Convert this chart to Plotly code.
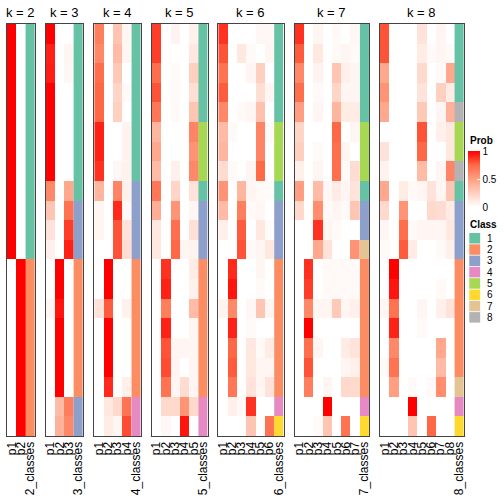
import plotly.graph_objects as go

W = H = 504
FONT = "Liberation Sans, Arial, sans-serif"

ks = [2, 3, 4, 5, 6, 7, 8]

prob_k2 = [[1, 0]] * 12 + [[0, 1]] * 9
class_k2 = [1] * 12 + [2] * 9

prob_k3 = [
    [1.00, 0, 0], [0.92, 0, 0.05], [0.93, 0, 0.04], [1, 0, 0], [1, 0, 0], [1, 0, 0],
    [1, 0, 0], [1, 0, 0], [0.60, 0, 0.45], [0.30, 0, 0.70], [0.15, 0, 0.85], [0.08, 0, 0.92],
    [0, 1, 0], [0, 1, 0], [0.05, 0.95, 0], [0, 1, 0], [0, 1, 0], [0, 1, 0], [0, 1, 0],
    [0, 0.35, 0.65], [0, 0.40, 0.60]]
class_k3 = [1] * 9 + [3] * 3 + [2] * 7 + [3] * 2

prob_k4 = [
    [0.65, 0, 0.30, 0.05], [0.60, 0, 0.35, 0.05], [0.72, 0, 0.28, 0], [0.75, 0, 0.22, 0.03],
    [0.75, 0, 0.25, 0], [0.92, 0, 0, 0.06], [0.92, 0, 0, 0.06], [0.88, 0, 0.04, 0.07],
    [0.38, 0, 0.62, 0.08], [0.05, 0, 0.90, 0.04], [0.05, 0, 0.80, 0.15], [0, 0, 0.80, 0.18],
    [0, 1, 0, 0], [0, 1, 0, 0], [0.15, 0.78, 0, 0.07], [0, 1, 0, 0], [0, 1, 0, 0], [0, 1, 0, 0],
    [0, 0.90, 0, 0.08], [0, 0.12, 0.20, 0.70], [0, 0.10, 0.05, 0.82]]
class_k4 = [1] * 8 + [3] * 4 + [2] * 7 + [4] * 2

prob_k5 = [
    [0.85, 0, 0.06, 0, 0.08], [0.85, 0, 0, 0, 0.12], [0.72, 0, 0.03, 0, 0.25],
    [0.80, 0, 0.03, 0, 0.17], [0.68, 0, 0.03, 0, 0.30], [0.38, 0, 0, 0, 0.62],
    [0.45, 0, 0, 0, 0.55], [0.35, 0, 0.08, 0, 0.60], [0.68, 0, 0.22, 0, 0.15],
    [0.42, 0, 0.55, 0, 0.05], [0.12, 0, 0.72, 0, 0.16], [0.12, 0, 0.75, 0.05, 0.06],
    [0, 0.88, 0, 0, 0.10], [0, 0.92, 0, 0, 0.07], [0, 0.65, 0, 0, 0.35], [0, 0.92, 0, 0, 0.05],
    [0, 0.80, 0.05, 0.05, 0.05], [0, 0.82, 0.05, 0, 0.05], [0, 0.70, 0.05, 0.18, 0.05],
    [0, 0.20, 0.20, 0.55, 0.20], [0, 0.04, 0, 0.95, 0]]
class_k5 = [1] * 5 + [5] * 3 + [1] + [3] * 3 + [2] * 7 + [4] * 2

prob_k6 = [
    [0.88, 0, 0, 0, 0.04, 0.04], [0.80, 0, 0.12, 0.03, 0, 0.05], [0.70, 0, 0, 0.05, 0.25, 0],
    [0.78, 0, 0, 0, 0.17, 0.05], [0.60, 0, 0.03, 0.05, 0.32, 0], [0.35, 0.03, 0, 0, 0.62, 0.03],
    [0.38, 0, 0, 0, 0.62, 0], [0.18, 0.03, 0, 0.05, 0.74, 0], [0.55, 0, 0.38, 0.05, 0.03, 0.02],
    [0.35, 0, 0.65, 0.03, 0.04, 0], [0.08, 0, 0.78, 0, 0.12, 0.02], [0, 0, 0.80, 0.03, 0.05, 0.12],
    [0, 0.90, 0, 0, 0.05, 0], [0, 0.95, 0, 0, 0.03, 0], [0.06, 0.60, 0, 0.04, 0.30, 0.05],
    [0, 0.92, 0, 0.03, 0, 0], [0, 0.75, 0, 0.12, 0.03, 0.10], [0, 0.78, 0, 0.12, 0.05, 0.05],
    [0, 0.68, 0, 0.15, 0.05, 0.15], [0, 0.08, 0.03, 0.88, 0, 0], [0, 0, 0, 0.30, 0, 0.70]]
class_k6 = [1] * 5 + [5] * 3 + [1] + [3] * 3 + [2] * 7 + [4] + [6]

prob_k7 = [
    [0.88, 0, 0.05, 0, 0.03, 0, 0.04], [0.78, 0, 0.12, 0, 0.03, 0.05, 0.03],
    [0.60, 0, 0.06, 0, 0.30, 0.08, 0.05], [0.72, 0, 0.03, 0, 0.22, 0.05, 0.05],
    [0.50, 0, 0.05, 0, 0.38, 0.10, 0.10], [0.22, 0, 0, 0, 0.75, 0, 0.05],
    [0.25, 0, 0.03, 0, 0.72, 0.05, 0], [0.08, 0, 0.05, 0, 0.72, 0.03, 0.18],
    [0.50, 0, 0.35, 0.04, 0.10, 0.05, 0.15], [0.20, 0, 0.58, 0.03, 0.05, 0.03, 0.30],
    [0, 0, 0.88, 0.05, 0.03, 0, 0], [0, 0, 0.45, 0.15, 0, 0, 0.55],
    [0, 0.88, 0, 0.03, 0.03, 0.03, 0.03], [0, 0.85, 0, 0.03, 0.03, 0.03, 0.03],
    [0, 0.60, 0.05, 0.05, 0.28, 0.05, 0.08], [0, 1.00, 0, 0, 0, 0, 0],
    [0, 0.72, 0.05, 0, 0, 0.10, 0.15], [0, 0.80, 0, 0, 0, 0.05, 0.08],
    [0, 0.65, 0, 0.05, 0, 0.20, 0.20], [0, 0, 0, 1.00, 0, 0, 0], [0, 0, 0.03, 0.30, 0, 0.70, 0]]
class_k7 = [1] * 5 + [5] * 3 + [1] + [3] * 2 + [7] + [2] * 7 + [4] + [6]

prob_k8 = [
    [0.80, 0, 0, 0, 0.15, 0, 0.05, 0], [0.80, 0, 0, 0, 0.10, 0.03, 0.05, 0.03],
    [0.45, 0, 0, 0, 0.20, 0, 0.03, 0.45], [0.55, 0, 0, 0, 0.15, 0, 0.25, 0.10],
    [0.45, 0, 0, 0, 0.28, 0, 0.05, 0.40], [0, 0, 0, 0, 0.80, 0, 0.08, 0.12],
    [0.15, 0, 0, 0, 0.75, 0, 0, 0.12], [0.06, 0, 0, 0, 0.35, 0, 0.05, 0.62],
    [0.45, 0, 0.10, 0.03, 0.05, 0.15, 0.05, 0.30], [0.20, 0, 0.55, 0, 0, 0.20, 0.18, 0.10],
    [0.04, 0, 0.72, 0.03, 0.05, 0.05, 0.05, 0.12], [0.03, 0, 0.78, 0.10, 0, 0, 0.03, 0.08],
    [0, 1.00, 0, 0, 0, 0, 0, 0], [0, 0.95, 0, 0, 0, 0, 0.03, 0],
    [0.05, 0.70, 0, 0, 0.05, 0, 0.08, 0.15], [0, 0.92, 0, 0, 0.03, 0, 0, 0],
    [0, 0.60, 0, 0, 0, 0, 0.45, 0], [0.03, 0.70, 0, 0, 0, 0, 0.35, 0],
    [0, 0.50, 0, 0.03, 0, 0.03, 0.58, 0], [0, 0, 0, 1.00, 0, 0, 0, 0],
    [0, 0, 0, 0.30, 0, 0.75, 0, 0]]
class_k8 = [1] * 4 + [8] + [5] * 2 + [8] + [1] + [3] * 3 + [2] * 6 + [7] + [4] + [6]

probs = [prob_k2, prob_k3, prob_k4, prob_k5, prob_k6, prob_k7, prob_k8]
classes = [class_k2, class_k3, class_k4, class_k5, class_k6, class_k7, class_k8]

class_labels = ["1", "2", "3", "4", "5", "6", "7", "8"]
class_colors = ["#66C2A5", "#FC8D62", "#8DA0CB", "#E78AC3",
                "#A6D854", "#FFD92F", "#E5C494", "#B3B3B3"]

prob_scale = [[0, "#FFFFFF"], [0.25, "#FFCFBF"], [0.5, "#FF9E81"],
              [0.75, "#FF6846"], [1, "#FF0000"]]
class_scale = []
for i, c in enumerate(class_colors):
    class_scale.append([i / 8, c])
    class_scale.append([(i + 1) / 8, c])

# layout geometry (pixels)
col_w = 9.4
starts = [5, 44, 93, 151, 218, 295, 381]
y_top, y_bot = 24, 436
yd = [1 - y_bot / H, 1 - y_top / H]

fig = go.Figure()
annotations = []
shapes = []
layout = {}
for i, k in enumerate(ks):
    sfx = "" if i == 0 else str(i + 1)
    pcols = ["p%d" % (j + 1) for j in range(k)]
    ccol = "%d_classes" % k
    cats = pcols + [ccol]
    nrow = len(classes[i])
    rows = list(range(nrow))
    x0 = starts[i]
    x1 = x0 + col_w * len(cats)
    fig.add_trace(go.Heatmap(
        z=probs[i], x=list(range(k)), y=rows, colorscale=prob_scale, zmin=0, zmax=1,
        xaxis="x" + sfx, yaxis="y" + sfx, showscale=(i == 0),
        colorbar=dict(x=470 / W, xanchor="left", y=1 - 151 / H, yanchor="top",
                      len=56, lenmode="pixels", thickness=12, thicknessmode="pixels",
                      outlinewidth=0, xpad=0, ypad=0, tickvals=[0, 0.5, 1],
                      ticktext=["0", "0.5", "1"], ticks="inside", ticklen=3,
                      tickcolor="white", tickfont=dict(size=10, family=FONT, color="black")),
        hoverinfo="skip"))
    fig.add_trace(go.Heatmap(
        z=[[c] for c in classes[i]], x0=k, dx=1, y=rows, colorscale=class_scale,
        zmin=0.5, zmax=8.5, xaxis="x" + sfx, yaxis="y" + sfx, showscale=False,
        hoverinfo="skip"))
    layout["xaxis" + sfx] = dict(
        domain=[x0 / W, x1 / W], anchor="y" + sfx,
        range=[-0.5, len(cats) - 0.5], tickmode="array",
        tickvals=list(range(len(cats))), ticktext=cats,
        tickangle=-90, showline=True, mirror=True, linecolor="#444", linewidth=1,
        showgrid=False, zeroline=False, ticks="", fixedrange=True,
        tickfont=dict(size=12, family=FONT, color="black"))
    layout["yaxis" + sfx] = dict(
        domain=yd, anchor="x" + sfx, range=[nrow - 0.5, -0.5], showticklabels=False,
        showline=True, mirror=True, linecolor="#444", linewidth=1, showgrid=False,
        zeroline=False, ticks="", fixedrange=True)
    annotations.append(dict(text="k = %d" % k, x=(x0 + x1) / 2 / W, y=1 - 12 / H,
                            xref="paper", yref="paper", xanchor="center",
                            yanchor="middle", showarrow=False,
                            font=dict(size=13, family=FONT, color="black")))

# legends
annotations.append(dict(text="<b>Prob</b>", x=470 / W, y=1 - 140 / H, xref="paper",
                        yref="paper", xanchor="left", yanchor="middle", showarrow=False,
                        font=dict(size=10, family=FONT, color="black")))
annotations.append(dict(text="<b>Class</b>", x=470 / W, y=1 - 224 / H, xref="paper",
                        yref="paper", xanchor="left", yanchor="middle", showarrow=False,
                        font=dict(size=10, family=FONT, color="black")))
for j, (lab, col) in enumerate(zip(class_labels, class_colors)):
    top = 233 + j * 11.3
    shapes.append(dict(type="rect", xref="paper", yref="paper",
                       x0=471 / W, x1=482 / W, y0=1 - (top + 10.5) / H, y1=1 - top / H,
                       fillcolor=col, line=dict(width=0)))
    annotations.append(dict(text=lab, x=487 / W, y=1 - (top + 5.3) / H, xref="paper",
                            yref="paper", xanchor="left", yanchor="middle",
                            showarrow=False,
                            font=dict(size=10, family=FONT, color="black")))

fig.update_layout(width=W, height=H, margin=dict(l=0, r=0, t=0, b=0),
                  paper_bgcolor="white", plot_bgcolor="white",
                  annotations=annotations, shapes=shapes, **layout)
fig.write_html("out.html", config={"displayModeBar": False},
               post_script="document.body.style.margin='0';document.body.style.overflow='hidden';")
